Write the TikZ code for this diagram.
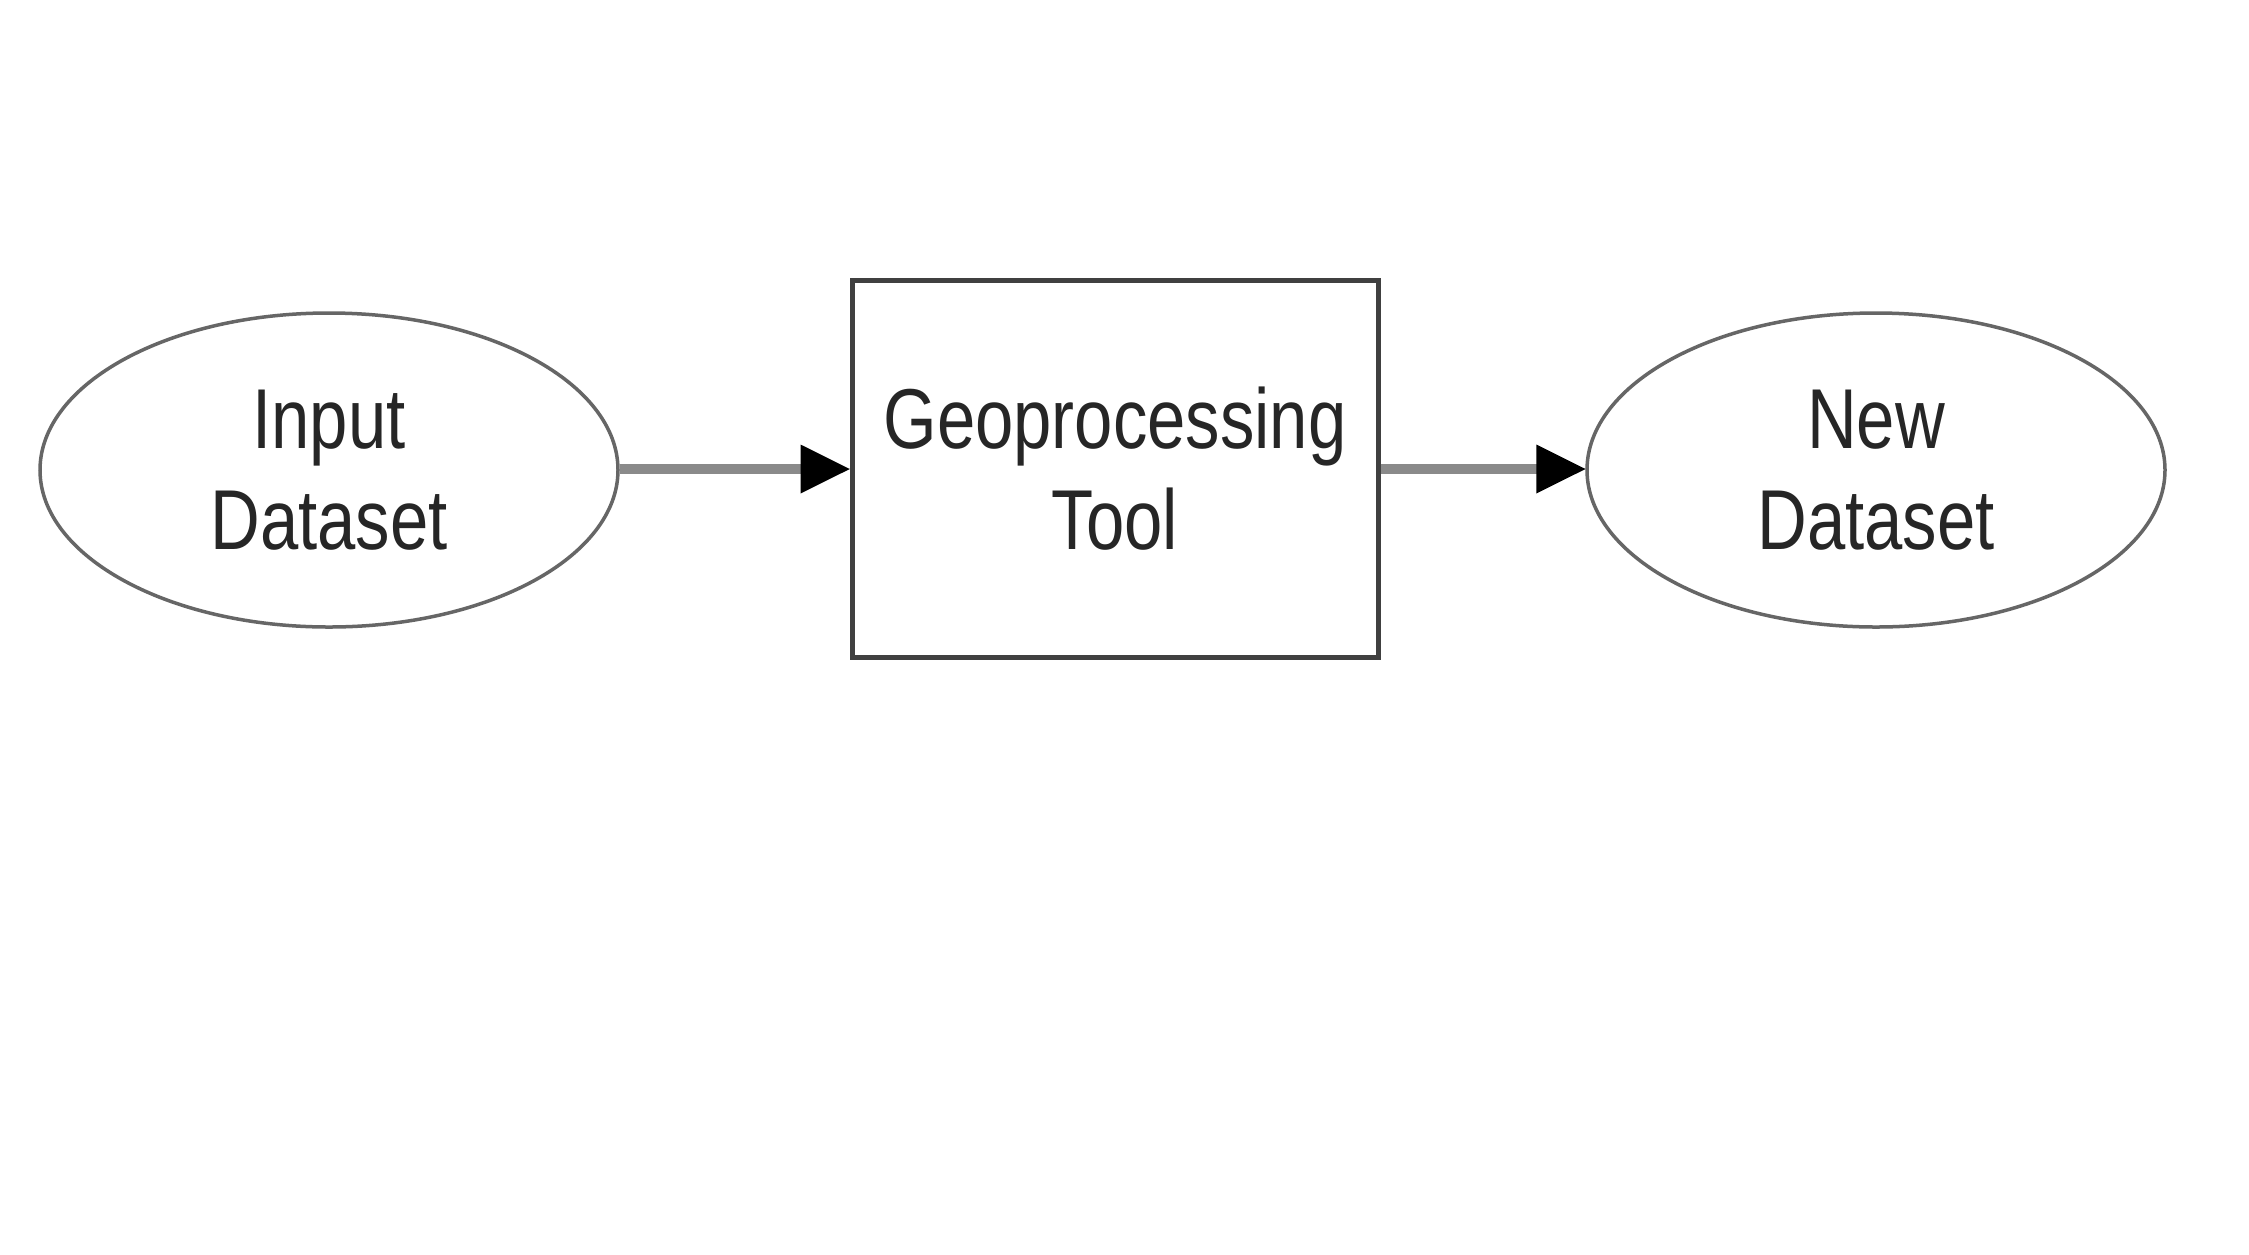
\documentclass[tikz,border=0pt]{standalone}
\usepackage{fontspec}
\setmainfont{Liberation Sans}[FakeStretch=0.81]
\usetikzlibrary{shapes.geometric,arrows.meta}
\definecolor{ellgray}{HTML}{666666}
\definecolor{boxgray}{HTML}{404040}
\definecolor{arrgray}{HTML}{8A8A8A}
\definecolor{txtgray}{HTML}{262626}
\tikzset{
  lbl/.style={font=\fontsize{85}{101}\selectfont, text=txtgray, align=center, inner sep=0pt},
  dataset/.style={lbl, ellipse, draw=ellgray, line width=3.5pt, minimum width=578pt, minimum height=314pt},
  toolbox/.style={lbl, rectangle, draw=boxgray, line width=5pt, minimum width=526pt, minimum height=377pt},
  flow/.style={draw=arrgray, line width=10pt, -{Triangle[length=50pt,width=46pt,color=black]}, shorten >=-1pt}
}
\begin{document}
\begin{tikzpicture}[x=1pt,y=-1pt]
  \useasboundingbox (0,0) rectangle (2249,1254);
  \fill[white] (0,0) rectangle (2249,1254);
  \node[dataset] (in) at (329,470) {Input\\Dataset};
  \node[toolbox] (tool) at (1115,468.5) {Geoprocessing\\Tool};
  \node[dataset] (out) at (1876,470) {New\\Dataset};
  \draw[flow] (in.east |- 0,469) -- (tool.west |- 0,469);
  \draw[flow] (tool.east |- 0,469) -- (out.west |- 0,469);
\end{tikzpicture}
\end{document}
